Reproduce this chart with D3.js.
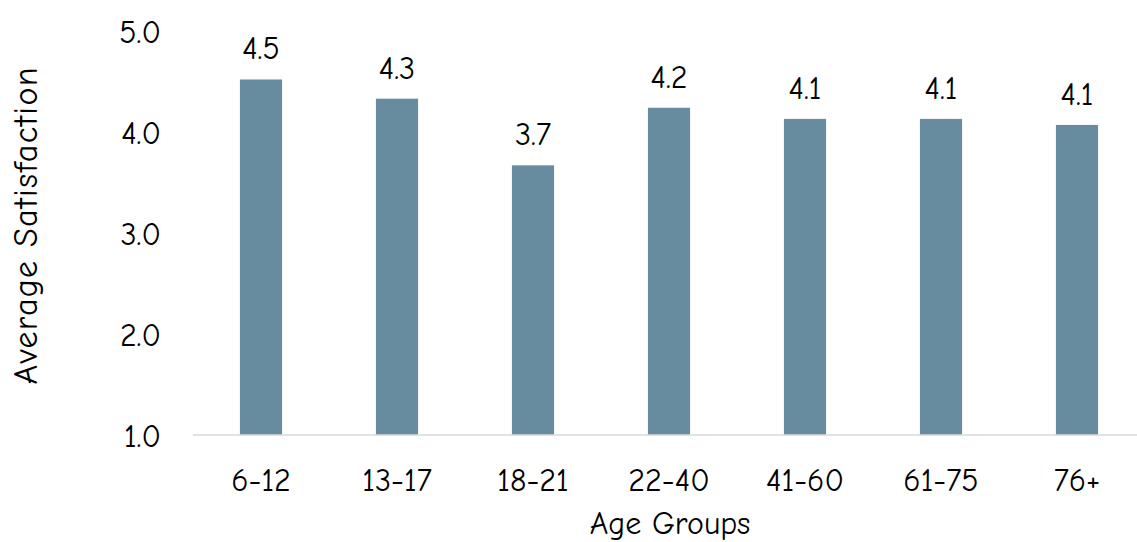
<!DOCTYPE html>
<html>
<head>
<meta charset="utf-8">
<script src="https://cdn.jsdelivr.net/npm/d3@7"></script>
<style>
  html, body { margin: 0; padding: 0; background: #fff; }
  text { font-family: "Comic Sans MS", "Comic Neue", "Noto Sans", sans-serif; fill: #000; }
</style>
</head>
<body>
<script>
// chart data
var ageGroups = ["6-12", "13-17", "18-21", "22-40", "41-60", "61-75", "76+"];
var satisfaction = [4.52, 4.33, 3.67, 4.24, 4.13, 4.13, 4.07];
var yTicks = [1, 2, 3, 4, 5];

var W = 1137, H = 542;

var svg = d3.select("body").append("svg")
    .attr("width", W).attr("height", H);

// scales
var x = d3.scaleBand()
    .domain(ageGroups)
    .range([193, 1145])
    .paddingInner(0.69)
    .paddingOuter(0.345);

var y = d3.scaleLinear()
    .domain([1, 5])
    .range([435, 31]);

// y axis labels (no line, no ticks)
var yAxis = svg.append("g")
    .attr("transform", "translate(161,0)")
    .call(d3.axisLeft(y).tickValues(yTicks).tickFormat(d3.format(".1f")).tickSize(0).tickPadding(0));
yAxis.select(".domain").remove();
yAxis.selectAll("text")
    .style("font-size", "32px")
    .attr("dy", "0.36em");

// bars
svg.selectAll("rect.bar")
    .data(satisfaction)
    .enter().append("rect")
    .attr("class", "bar")
    .attr("x", function (d, i) { return x(ageGroups[i]); })
    .attr("width", x.bandwidth())
    .attr("y", function (d) { return y(d); })
    .attr("height", function (d) { return y(1) - y(d); })
    .style("fill", "#678c9f");

// x axis
var xAxis = svg.append("g")
    .attr("transform", "translate(0," + y(1) + ")")
    .call(d3.axisBottom(x).tickSize(0).tickPadding(0));
xAxis.select(".domain")
    .attr("d", "M193,0H1145")
    .style("stroke", "#d9d9d9")
    .style("stroke-width", 1.5);
xAxis.selectAll("text")
    .attr("y", 56)
    .attr("dy", 0)
    .style("font-size", "32px");

// value labels
svg.selectAll("text.val")
    .data(satisfaction)
    .enter().append("text")
    .attr("class", "val")
    .attr("x", function (d, i) { return x(ageGroups[i]) + x.bandwidth() / 2; })
    .attr("y", function (d) { return y(d) - 20; })
    .attr("text-anchor", "middle")
    .style("font-size", "32px")
    .text(function (d) { return d3.format(".1f")(d); });

// axis titles
svg.append("text")
    .attr("x", 670).attr("y", 534)
    .attr("text-anchor", "middle")
    .style("font-size", "32px")
    .text("Age Groups");

svg.append("text")
    .attr("transform", "translate(37,226) rotate(-90)")
    .attr("text-anchor", "middle")
    .attr("textLength", 317)
    .style("font-size", "34px")
    .text("Average Satisfaction");
</script>
</body>
</html>
